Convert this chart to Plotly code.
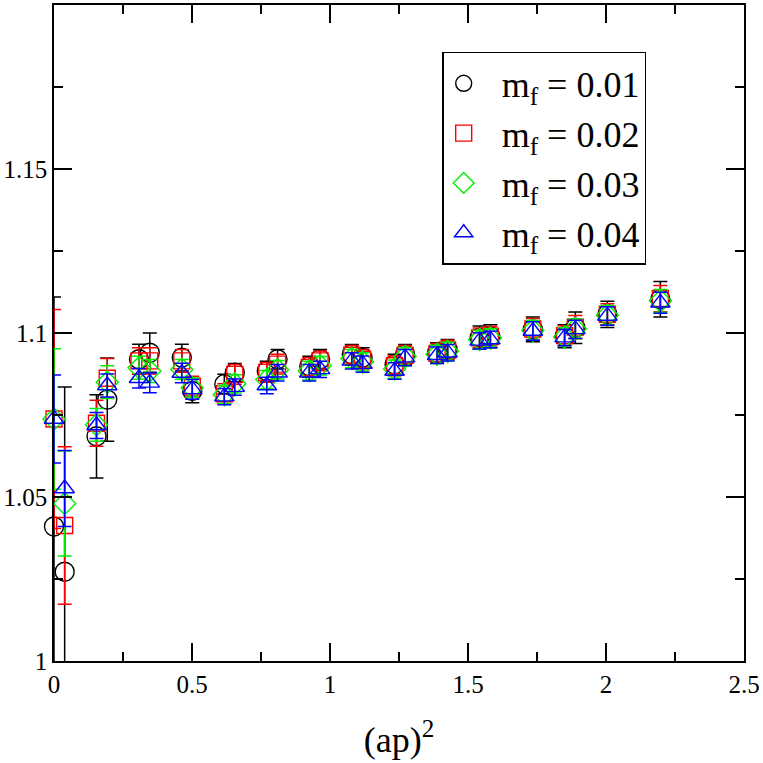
import plotly.graph_objects as go

# (ap)^2 values
x_vals = [0.0, 0.0386, 0.154, 0.193, 0.308, 0.347, 0.463, 0.501, 0.617, 0.655,
          0.771, 0.810, 0.925, 0.964, 1.079, 1.118, 1.234, 1.272, 1.388, 1.426,
          1.542, 1.581, 1.735, 1.850, 1.889, 2.005, 2.197]

# m_f = 0.01
y_001 = [1.0410, 1.0272, 1.0685, 1.0797, 1.0920, 1.0940, 1.0925, 1.0823, 1.0844, 1.0879,
         1.0884, 1.0920, 1.0899, 1.0920, 1.0935, 1.0925, 1.0905, 1.0935, 1.0940, 1.0950,
         1.0986, 1.0990, 1.1011, 1.0990, 1.1016, 1.1057, 1.1103]
e_001 = [0.0700, 0.0563, 0.0127, 0.0127, 0.0046, 0.0060, 0.0041, 0.0036, 0.0030, 0.0028,
         0.0030, 0.0030, 0.0030, 0.0030, 0.0030, 0.0030, 0.0030, 0.0030, 0.0030, 0.0030,
         0.0035, 0.0035, 0.0038, 0.0035, 0.0048, 0.0040, 0.0054]

# m_f = 0.02
y_002 = [1.0738, 1.0413, 1.0725, 1.0862, 1.0915, 1.0915, 1.0915, 1.0838, 1.0815, 1.0874,
         1.0880, 1.0905, 1.0895, 1.0915, 1.0932, 1.0920, 1.0900, 1.0932, 1.0938, 1.0948,
         1.0985, 1.0990, 1.1012, 1.0992, 1.1018, 1.1057, 1.1105]
e_002 = [0.0334, 0.0240, 0.0070, 0.0060, 0.0040, 0.0040, 0.0035, 0.0030, 0.0030, 0.0030,
         0.0030, 0.0030, 0.0030, 0.0030, 0.0030, 0.0030, 0.0030, 0.0030, 0.0030, 0.0030,
         0.0030, 0.0030, 0.0032, 0.0030, 0.0035, 0.0032, 0.0040]

# m_f = 0.03
y_003 = [1.0738, 1.0480, 1.0720, 1.0850, 1.0894, 1.0884, 1.0889, 1.0833, 1.0812, 1.0845,
         1.0858, 1.0888, 1.0885, 1.0900, 1.0922, 1.0912, 1.0890, 1.0928, 1.0935, 1.0944,
         1.0980, 1.0985, 1.1008, 1.0988, 1.1013, 1.1054, 1.1098]
e_003 = [0.0214, 0.0160, 0.0050, 0.0050, 0.0035, 0.0035, 0.0030, 0.0030, 0.0028, 0.0028,
         0.0028, 0.0028, 0.0028, 0.0028, 0.0028, 0.0028, 0.0028, 0.0028, 0.0028, 0.0028,
         0.0028, 0.0028, 0.0030, 0.0028, 0.0030, 0.0030, 0.0035]

# m_f = 0.04
y_004 = [1.0738, 1.0526, 1.0718, 1.0840, 1.0862, 1.0848, 1.0878, 1.0828, 1.0806, 1.0835,
         1.0840, 1.0879, 1.0879, 1.0889, 1.0915, 1.0905, 1.0884, 1.0925, 1.0932, 1.0940,
         1.0976, 1.0980, 1.1006, 1.0986, 1.1011, 1.1052, 1.1092]
e_004 = [0.0134, 0.0116, 0.0040, 0.0035, 0.0030, 0.0030, 0.0030, 0.0030, 0.0025, 0.0025,
         0.0025, 0.0025, 0.0025, 0.0025, 0.0025, 0.0025, 0.0025, 0.0025, 0.0025, 0.0025,
         0.0025, 0.0025, 0.0028, 0.0025, 0.0028, 0.0028, 0.0032]

labels = ["  m<sub>f</sub> = 0.01", "  m<sub>f</sub> = 0.02",
          "  m<sub>f</sub> = 0.03", "  m<sub>f</sub> = 0.04"]
colors = ["#000000", "#ff0000", "#00ee00", "#0000ff"]
symbols = ["circle-open", "square-open", "diamond-open", "triangle-up-open"]
sizes = [19, 16, 17, 17]

FONT = "'Liberation Serif', 'Times New Roman', Times, serif"

fig = go.Figure()
for y, e, lab, c, s, sz in zip([y_001, y_002, y_003, y_004],
                               [e_001, e_002, e_003, e_004],
                               labels, colors, symbols, sizes):
    # error bars, clipped to the plot area
    fig.add_trace(go.Scatter(
        x=x_vals, y=y, mode="markers", showlegend=False, hoverinfo="skip",
        marker=dict(size=2, color=c, opacity=0),
        error_y=dict(type="data", array=e, visible=True, color=c,
                     thickness=1.5, width=7),
        cliponaxis=True,
    ))
    # markers, drawn over the axes
    fig.add_trace(go.Scatter(
        x=x_vals, y=y, mode="markers", name=lab,
        marker=dict(symbol=s, size=sz, color=c, line=dict(color=c, width=1.4)),
        cliponaxis=False,
    ))

axis_common = dict(
    showline=True, linecolor="black", linewidth=1.5, mirror="ticks",
    ticks="inside", ticklen=18, tickwidth=1.5, tickcolor="black",
    showgrid=False, zeroline=False,
    tickfont=dict(family=FONT, size=25, color="black"),
)

fig.update_layout(
    width=763, height=763,
    margin=dict(l=51, r=17, t=3, b=102),
    paper_bgcolor="white", plot_bgcolor="white",
    font=dict(family=FONT, color="black"),
    xaxis=dict(
        range=[0, 2.5],
        tickvals=[0, 0.5, 1, 1.5, 2, 2.5],
        ticktext=["0", "0.5", "1", "1.5", "2", "2.5"],
        minor=dict(tickvals=[0.25, 0.75, 1.25, 1.75, 2.25], ticks="inside",
                   ticklen=9, tickwidth=1.5, tickcolor="black"),
        title=dict(text="(ap)<sup>2</sup>", font=dict(family=FONT, size=36),
                   standoff=30),
        **axis_common,
    ),
    yaxis=dict(
        range=[1, 1.2],
        tickvals=[1, 1.05, 1.1, 1.15],
        ticktext=["1", "1.05", "1.1", "1.15"],
        minor=dict(tickvals=[1.025, 1.075, 1.125, 1.175], ticks="inside",
                   ticklen=9, tickwidth=1.5, tickcolor="black"),
        **axis_common,
    ),
    legend=dict(
        x=0.5626, y=0.9285, xanchor="left", yanchor="top",
        bordercolor="black", borderwidth=1.5, bgcolor="white",
        font=dict(family=FONT, size=36, color="black"),
    ),
    showlegend=True,
)

fig.write_html("out.html", config={"displayModeBar": False},
               post_script="document.body.style.margin='0';document.body.style.padding='0';")
